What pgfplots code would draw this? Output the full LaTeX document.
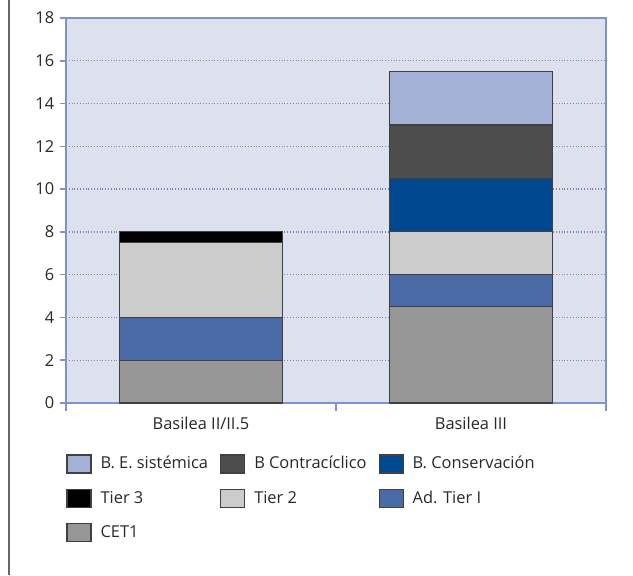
\documentclass[border=0pt]{standalone}
\usepackage{fontspec}
\setmainfont{Open Sans}
\usepackage{pgfplots}
\pgfplotsset{compat=1.18}
\definecolor{bgc}{RGB}{221,225,238}
\definecolor{axc}{RGB}{128,146,203}
\definecolor{gridc}{RGB}{120,138,200}
\definecolor{cCET}{RGB}{150,150,150}
\definecolor{cAd}{RGB}{74,106,168}
\definecolor{cT2}{RGB}{204,204,204}
\definecolor{cT3}{RGB}{0,0,0}
\definecolor{cCons}{RGB}{0,72,144}
\definecolor{cContra}{RGB}{77,77,77}
\definecolor{cSis}{RGB}{163,177,214}
\definecolor{txt}{RGB}{40,40,40}
\begin{document}
\fontsize{8.2}{10}\selectfont
\begin{tikzpicture}
\path[use as bounding box] (-33pt,-86pt) rectangle (283.5pt,201.5pt);
\draw[black!60, line width=0.6pt] (-28.5pt,-86pt) -- (-28.5pt,201.5pt);
\begin{axis}[
  at={(0,0)}, anchor=south west,
  scale only axis, width=270pt, height=192.5pt,
  ybar stacked, bar width=81.5pt,
  xmin=-0.5, xmax=1.5, ymin=0, ymax=18,
  tick pos=left,
  xtick={0,1}, xticklabels={Basilea II/II.5, Basilea III},
  x tick style={draw=none},
  extra x ticks={-0.5,0.5,1.5}, extra x tick labels={},
  extra x tick style={x tick style={draw=axc, line width=0.8pt}, tick align=outside, major tick length=4pt, grid=none},
  ytick={0,2,...,18},
  y tick style={draw=axc, line width=0.8pt}, tick align=outside, major tick length=3pt,
  ymajorgrids, y grid style={densely dotted, gridc, line width=0.7pt},
  axis line style={draw=axc, line width=1pt},
  axis background/.style={fill=bgc},
  tick label style={font=\fontsize{8.2}{10}\selectfont, text=txt},
  yticklabel style={xshift=0pt},
  xticklabel style={yshift=-1pt},
  /pgf/number format/assume math mode=true,
  reverse legend,
  legend columns=3,
  legend cell align=left,
  legend style={at={(rel axis cs:0,0)}, anchor=north west, yshift=-22.5pt, xshift=-3pt,
    draw=none, fill=none, row sep=5.8pt,
    font=\fontsize{8.2}{10}\selectfont, text=txt,
    /tikz/every odd column/.append style={column sep=2.5pt},
    /tikz/every even column/.append style={column sep=4pt}},
  legend image code/.code={\draw[#1, draw=black!75, line width=0.6pt] (0pt,-4.5pt) rectangle (12pt,4.5pt);},
  every axis plot/.append style={draw=black!75, line width=0.6pt},
]
\addplot[fill=cCET] coordinates {(0,2) (1,4.5)};
\addlegendentry{CET1}
\addplot[fill=cAd] coordinates {(0,2) (1,1.5)};
\addlegendentry{Ad. Tier I}
\addplot[fill=cT2] coordinates {(0,3.5) (1,2)};
\addlegendentry{Tier 2}
\addplot[fill=cT3] coordinates {(0,0.5) (1,0)};
\addlegendentry{Tier 3}
\addplot[fill=cCons] coordinates {(0,0) (1,2.5)};
\addlegendentry{B. Conservación}
\addplot[fill=cContra] coordinates {(0,0) (1,2.5)};
\addlegendentry{B Contracíclico}
\addplot[fill=cSis] coordinates {(0,0) (1,2.5)};
\addlegendentry{B. E. sistémica}
\end{axis}
\end{tikzpicture}
\end{document}
